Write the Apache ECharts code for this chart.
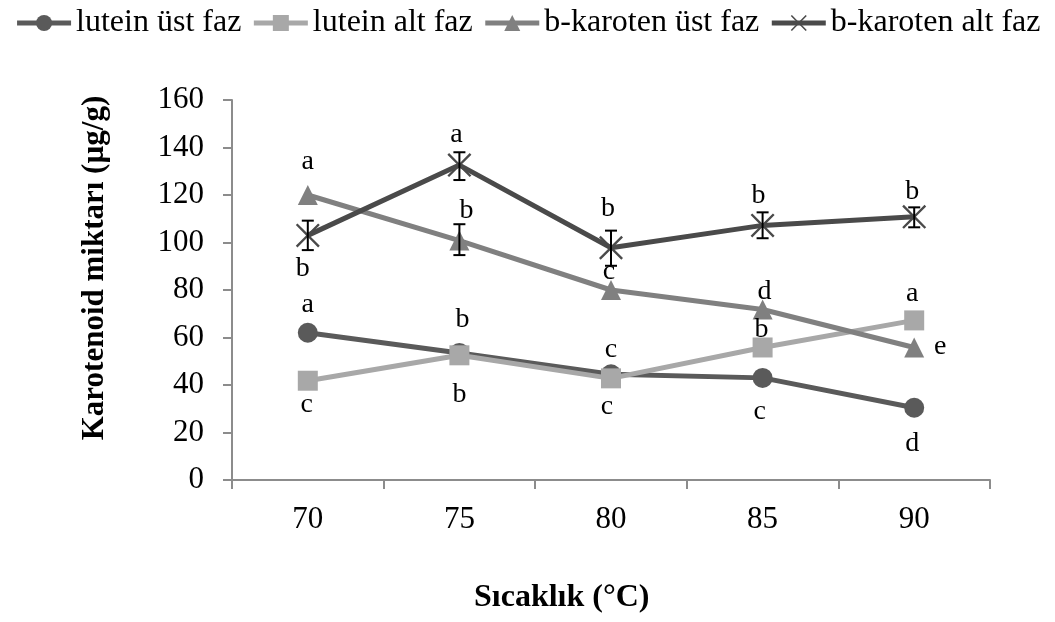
<!DOCTYPE html>
<html>
<head>
<meta charset="utf-8">
<script src="https://cdn.jsdelivr.net/npm/echarts@6/dist/echarts.min.js"></script>
<style>
  html, body { margin: 0; padding: 0; background: #fff; }
  #chart { width: 1055px; height: 622px; }
</style>
</head>
<body>
<div id="chart"></div>
<script>
// Temperatures (°C)
const categories = ['70', '75', '80', '85', '90'];

// Carotenoid amounts (µg/g)
const luteinUst = [62, 53.5, 44.5, 43, 30.4];
const luteinAlt = [41.8, 52.5, 42.8, 55.8, 67.2];
const karotenUst = [120, 100.8, 80, 71.8, 55.8];
const karotenAlt = [103, 132.6, 97.8, 107.2, 110.8];

// Error bar ranges [low, high]
const karotenAltErr = [[96.8, 109.2], [126.3, 138], [90.2, 105], [101.8, 112.7], [106.4, 114.8]];
const karotenUstErr = [null, [94.7, 107.7], null, null, null];

// Significance letters
const luteinUstLetters = ['a', 'b', 'c', 'c', 'd'];
const luteinAltLetters = ['c', 'b', 'c', 'b', 'a'];
const karotenUstLetters = ['a', 'b', 'c', 'd', 'e'];
const karotenAltLetters = ['b', 'a', 'b', 'b', 'b'];

const yTicks = { min: 0, max: 160, interval: 20 };
const xTitle = 'Sıcaklık (°C)';
const yTitle = 'Karotenoid miktarı (µg/g)';

// Letter placement around each point, in pixels
const luteinUstOff = [[0, -28], [3, -33], [0, -25], [-3, 34], [-2, 36]];
const luteinAltOff = [[-1, 24], [0, 39], [-4, 28], [-1, -18], [-2, -27]];
const karotenUstOff = [[0, -33], [7, -30], [-2, -18], [2, -18], [26, -1]];
const karotenAltOff = [[-5, 33], [-3, -30], [-3, -39], [-4, -30], [-2, -25]];

const FONT = '"Liberation Serif", "Times New Roman", serif';
const crossPath = 'path://M0,0.7 L0.7,0 L5,4.3 L9.3,0 L10,0.7 L5.7,5 L10,9.3 L9.3,10 L5,5.7 L0.7,10 L0,9.3 L4.3,5 Z';

function pointData(values, letters, offsets) {
  return values.map((v, i) => ({
    value: v,
    label: {
      show: true,
      formatter: letters[i],
      position: 'inside',
      offset: offsets[i],
      color: '#000',
      fontFamily: FONT,
      fontSize: 28
    }
  }));
}

function lineSeries(name, color, symbol, values, letters, offsets, size) {
  return {
    name: name,
    type: 'line',
    data: pointData(values, letters, offsets),
    symbol: symbol,
    symbolSize: size,
    showAllSymbol: true,
    lineStyle: { color: color, width: 5 },
    itemStyle: { color: color },
    emphasis: { disabled: true },
    animation: false
  };
}

function errorSeries(ranges) {
  const data = [];
  ranges.forEach((r, i) => { if (r) data.push([i, r[0], r[1]]); });
  return {
    type: 'custom',
    data: data,
    z: 10,
    silent: true,
    animation: false,
    renderItem: function (params, api) {
      const x = api.value(0);
      const lo = api.coord([x, api.value(1)]);
      const hi = api.coord([x, api.value(2)]);
      const cap = 6;
      const style = { stroke: '#000', lineWidth: 2 };
      return {
        type: 'group',
        children: [
          { type: 'line', shape: { x1: lo[0], y1: lo[1], x2: hi[0], y2: hi[1] }, style: style },
          { type: 'line', shape: { x1: lo[0] - cap, y1: lo[1], x2: lo[0] + cap, y2: lo[1] }, style: style },
          { type: 'line', shape: { x1: hi[0] - cap, y1: hi[1], x2: hi[0] + cap, y2: hi[1] }, style: style }
        ]
      };
    }
  };
}

const chart = echarts.init(document.getElementById('chart'), null, { renderer: 'canvas' });

chart.setOption({
  backgroundColor: '#fff',
  animation: false,
  legend: {
    top: 7,
    left: 'center',
    width: 1055,
    padding: 0,
    itemWidth: 54,
    itemHeight: 20,
    itemGap: 10,
    lineStyle: { width: 5 },
    textStyle: { fontFamily: FONT, fontSize: 32, color: '#000' },
    data: ['lutein üst faz', 'lutein alt faz', 'b-karoten üst faz', 'b-karoten alt faz']
  },
  grid: { left: 232, right: 65, top: 100, bottom: 142 },
  graphic: [
    {
      type: 'text',
      left: 474,
      top: 582,
      style: { text: xTitle, font: 'bold 32px ' + FONT, fill: '#000' }
    },
    {
      type: 'text',
      x: 95,
      y: 268,
      rotation: Math.PI / 2,
      style: {
        text: yTitle,
        font: 'bold 31px ' + FONT,
        fill: '#000',
        align: 'center',
        verticalAlign: 'middle'
      }
    }
  ],
  xAxis: {
    type: 'category',
    data: categories,
    boundaryGap: true,
    axisLine: { lineStyle: { color: '#8c8c8c', width: 2 } },
    axisTick: { show: true, alignWithLabel: false, length: 9, lineStyle: { color: '#8c8c8c', width: 2 } },
    axisLabel: { fontFamily: FONT, fontSize: 31, color: '#000', margin: 24 },
    splitLine: { show: false }
  },
  yAxis: {
    type: 'value',
    min: yTicks.min,
    max: yTicks.max,
    interval: yTicks.interval,
    axisLine: { show: true, lineStyle: { color: '#8c8c8c', width: 2 } },
    axisTick: { show: true, length: 9, lineStyle: { color: '#8c8c8c', width: 2 } },
    axisLabel: { fontFamily: FONT, fontSize: 31, color: '#000', margin: 28 },
    splitLine: { show: false }
  },
  series: [
    lineSeries('lutein üst faz', '#5a5a5a', 'circle', luteinUst, luteinUstLetters, luteinUstOff, 20),
    lineSeries('lutein alt faz', '#a8a8a8', 'rect', luteinAlt, luteinAltLetters, luteinAltOff, 20),
    lineSeries('b-karoten üst faz', '#808080', 'triangle', karotenUst, karotenUstLetters, karotenUstOff, 20),
    lineSeries('b-karoten alt faz', '#4a4a4a', crossPath, karotenAlt, karotenAltLetters, karotenAltOff, 24),
    errorSeries(karotenAltErr),
    errorSeries(karotenUstErr)
  ]
});
</script>
</body>
</html>
